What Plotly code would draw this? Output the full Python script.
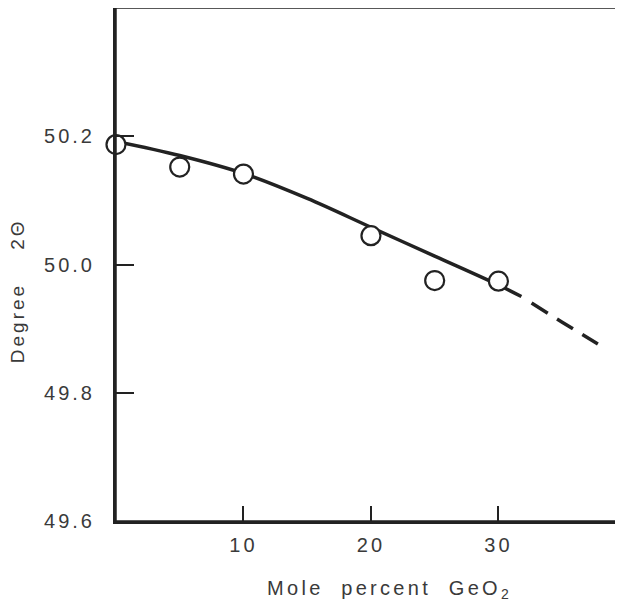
import plotly.graph_objects as go

# Measured points
mole_pct = [0, 5, 10, 20, 25, 30]
two_theta = [50.187, 50.152, 50.141, 50.045, 49.975, 49.974]

# Fitted curve (solid) and extrapolation (dashed)
curve_x = [0, 5, 10, 15, 20, 25, 30, 31.8]
curve_y = [50.192, 50.170, 50.142, 50.103, 50.058, 50.013, 49.968, 49.950]
ext_x = [32.6, 35, 37.8]
ext_y = [49.940, 49.910, 49.876]

x_ticks = [10, 20, 30]
x_ticklabels = ["10", "20", "30"]
y_ticks = [49.6, 49.8, 50.0, 50.2]
y_ticklabels = ["49.6", "49.8", "50.0", "50.2"]

INK = "#222222"
TXT = "#3a3a3a"
FONT = "Liberation Sans"

def spaced(s, px=3):
    return f'<span style="letter-spacing:{px}px">{s}</span>'

fig = go.Figure()
fig.add_trace(go.Scatter(x=curve_x, y=curve_y, mode="lines", line_shape="spline",
                         line=dict(color=INK, width=3.5), showlegend=False, hoverinfo="skip"))
fig.add_trace(go.Scatter(x=ext_x, y=ext_y, mode="lines", line_shape="spline",
                         line=dict(color=INK, width=3.5, dash="19px,11px"),
                         showlegend=False, hoverinfo="skip"))
fig.add_trace(go.Scatter(x=mole_pct, y=two_theta, mode="markers",
                         marker=dict(symbol="circle", size=19, color="white",
                                     line=dict(color=INK, width=2.2)),
                         showlegend=False, cliponaxis=False))

# page body has an 8px margin, so the figure is sized/offset to compensate
fig.update_layout(
    width=615, height=601,
    margin=dict(l=108, r=6, t=0, b=88),
    paper_bgcolor="white", plot_bgcolor="white",
    font=dict(family=FONT, size=20, color=TXT),
    xaxis=dict(range=[0, 39.3], showgrid=False, zeroline=False,
               showline=True, linewidth=3, linecolor=INK,
               ticks="inside", ticklen=15, tickwidth=1.5, tickcolor=INK,
               tickvals=x_ticks, ticktext=[spaced(t) for t in x_ticklabels],
               ticklabelstandoff=4),
    yaxis=dict(range=[49.6, 50.4], showgrid=False, zeroline=False,
               showline=True, linewidth=3, linecolor=INK,
               ticks="inside", ticklen=18, tickwidth=1.5, tickcolor=INK,
               tickvals=y_ticks, ticktext=[spaced(t) for t in y_ticklabels],
               ticklabelstandoff=14),
    shapes=[dict(type="rect", xref="paper", yref="paper", x0=0, y0=0, x1=1, y1=1,
                 line=dict(color=INK, width=1.5), layer="above")],
    annotations=[
        dict(text=spaced("Degree\u00a0\u00a0\u00a0\u00a02\u0398", 3), xref="paper", yref="paper",
             x=0, y=0.448, xshift=-99, textangle=-90, showarrow=False,
             xanchor="center", yanchor="middle", font=dict(size=19, color=TXT)),
        dict(text=spaced("Mole\u00a0\u00a0percent\u00a0\u00a0GeO<sub>2</sub>", 3.3), xref="paper", yref="paper",
             x=0.545, y=0, yshift=-68, showarrow=False,
             xanchor="center", yanchor="middle", font=dict(size=20, color=TXT)),
    ],
)

fig.write_html("out.html")
